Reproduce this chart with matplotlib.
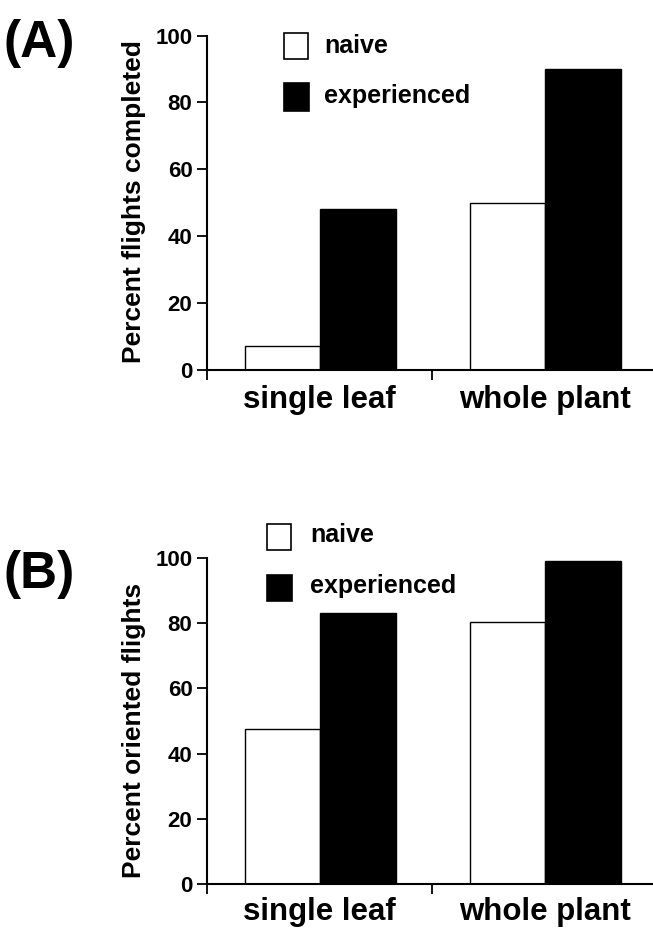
import matplotlib
matplotlib.use('Agg')
import matplotlib.pyplot as plt
from matplotlib.patches import Rectangle

plt.rcParams['font.family'] = ['Liberation Sans', 'DejaVu Sans']
plt.rcParams['font.weight'] = 'bold'

categories = ['single leaf', 'whole plant']
series = ['naive', 'experienced']

completed_naive = [7, 50]
completed_experienced = [48, 90]
oriented_naive = [47.5, 80.5]
oriented_experienced = [83, 99]

W, H = 653, 932
fig = plt.figure(figsize=(W / 100, H / 100), dpi=100)


def px_axes(left, top, right, bottom):
    # axes rectangle in pixels, measured from the top-left corner
    return fig.add_axes((left / W, 1 - bottom / H, (right - left) / W, (bottom - top) / H))


def legend_box(x, y, w, h, face, label, tx, ty):
    fig.patches.append(Rectangle((x / W, 1 - (y + h) / H), w / W, h / H,
                                 transform=fig.transFigure, facecolor=face,
                                 edgecolor='black', linewidth=1.2))
    fig.text(tx / W, 1 - ty / H, label, fontsize=18, fontweight='bold',
             ha='left', va='baseline')


def bar_panel(ax, naive, experienced, ylabel, xpad=11):
    x = range(len(categories))
    ax.bar([i - 0.165 for i in x], naive, width=0.33, color='white',
           edgecolor='black', linewidth=1.0)
    ax.bar([i + 0.171 for i in x], experienced, width=0.342,
           color='black', edgecolor='black', linewidth=1.0)
    ax.set_xlim(-0.5, 1.482)
    ax.set_ylim(0, 100)
    ax.spines['top'].set_visible(False)
    ax.spines['right'].set_visible(False)
    for s in ('left', 'bottom'):
        ax.spines[s].set_linewidth(1.5)
    ax.set_yticks([0, 20, 40, 60, 80, 100])
    ax.tick_params(axis='y', length=7.5, width=1.3, pad=3, labelsize=16)
    ax.set_xticks(list(x))
    ax.set_xticklabels(categories, fontsize=22.5, fontweight='bold')
    ax.tick_params(axis='x', which='major', length=0, pad=xpad)
    ax.set_xticks([-0.5, 0.5], minor=True)
    ax.tick_params(axis='x', which='minor', length=7.5, width=1.3)
    for t in ax.get_yticklabels():
        t.set_fontweight('bold')
    ax.set_ylabel(ylabel, fontsize=19, fontweight='bold', loc='bottom')
    ax.yaxis.set_label_coords(-0.137, 0.018)


# (A) completed flights
ax1 = px_axes(207, 35.5, 653, 369.5)
bar_panel(ax1, completed_naive, completed_experienced, 'Percent flights completed')
legend_box(284, 33.5, 24, 25, 'white', series[0], 324, 53)
legend_box(283.5, 83.5, 25.5, 27.5, 'black', series[1], 324, 103.5)
fig.text(3 / W, 1 - 57 / H, '(A)', fontsize=37, fontweight='bold', ha='left', va='baseline')

# (B) oriented flights
ax2 = px_axes(207, 558, 653, 884)
bar_panel(ax2, oriented_naive, oriented_experienced, 'Percent oriented flights', xpad=9.5)
legend_box(267, 523.5, 24, 26, 'white', series[0], 310, 542)
legend_box(266.5, 574.5, 25, 26.5, 'black', series[1], 310, 593)
fig.text(3 / W, 1 - 588 / H, '(B)', fontsize=37, fontweight='bold', ha='left', va='baseline')

fig.savefig('out.png', dpi=100)
